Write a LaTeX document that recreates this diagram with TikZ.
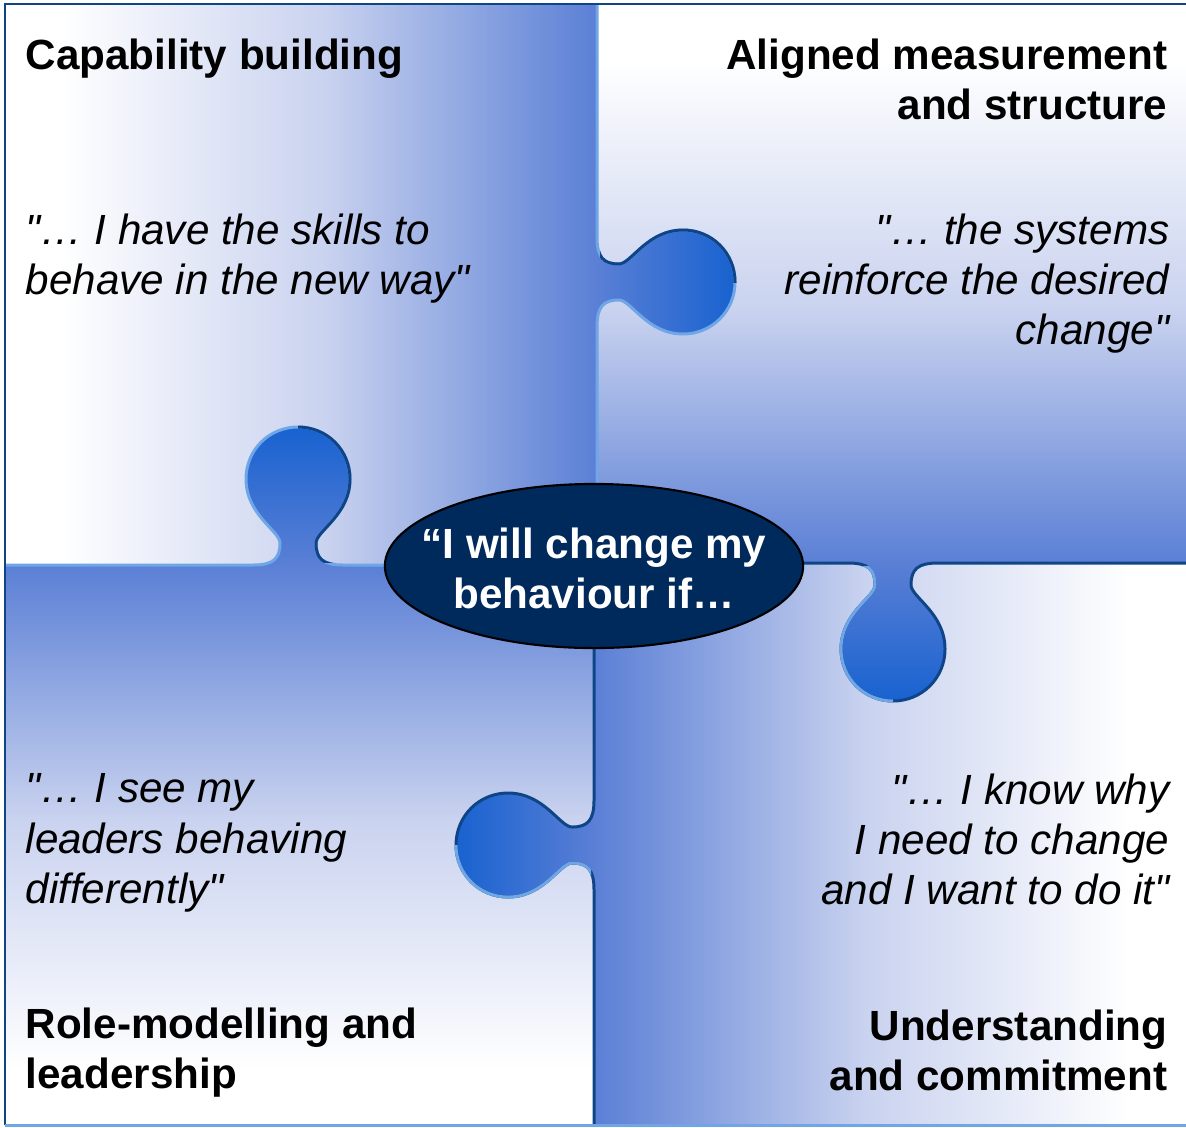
\documentclass[tikz,border=0pt]{standalone}
\usepackage{fontspec}
\setmainfont{Liberation Sans}
\usetikzlibrary{shapes.geometric}

\definecolor{pblue}{HTML}{5A7FD5}
\definecolor{kblue}{HTML}{1862D0}
\definecolor{midtone}{HTML}{C9D2EF}
\definecolor{navyedge}{HTML}{0F4587}
\definecolor{skyedge}{HTML}{6FA6E6}
\definecolor{corenavy}{HTML}{00295C}

\pgfdeclarehorizontalshading{tlshade}{100bp}{color(0bp)=(white); color(28.8bp)=(white); color(47bp)=(midtone); color(65.6bp)=(pblue); color(75bp)=(kblue); color(100bp)=(kblue)}
\pgfdeclareverticalshading{trshade}{100bp}{color(0bp)=(kblue); color(25bp)=(kblue); color(34.8bp)=(pblue); color(53bp)=(midtone); color(71bp)=(white); color(100bp)=(white)}
\pgfdeclarehorizontalshading{brshade}{100bp}{color(0bp)=(kblue); color(25bp)=(kblue); color(34.4bp)=(pblue); color(53bp)=(midtone); color(71.2bp)=(white); color(100bp)=(white)}
\pgfdeclareverticalshading{blshade}{100bp}{color(0bp)=(white); color(28.9bp)=(white); color(47bp)=(midtone); color(65.2bp)=(pblue); color(75bp)=(kblue); color(100bp)=(kblue)}

% puzzle knob: base centre, direction, run (1 or -1)
\newcommand{\knob}[3]{{[shift={#1},rotate=#2,xscale=#3]
  -- (-45,0) .. controls (-25,0) and (-18,-6) .. (-18,-22)
  .. controls (-18,-34) and (-52,-50) .. (-52,-86)
  .. controls (-52,-115) and (-29,-138) .. (0,-138)
  .. controls (29,-138) and (52,-115) .. (52,-86)
  .. controls (52,-50) and (18,-34) .. (18,-22)
  .. controls (18,-6) and (25,0) .. (45,0)}}
\newcommand{\dq}{\textquotedbl}

\begin{document}
\begin{tikzpicture}[x=0.01cm, y=-0.01cm,
    darkline/.style={draw=navyedge, line width=0.85pt},
    lightline/.style={draw=skyedge, line width=0.85pt},
    core/.style={ellipse, draw=black, line width=0.6pt, fill=corenavy, minimum width=4.18cm, minimum height=1.64cm, inner sep=0pt},
    coretext/.style={align=center, text=white, inner sep=0pt, font=\bfseries\fontsize{12}{14.2}\selectfont},
    title/.style={inner sep=0pt, font=\bfseries\fontsize{12}{14.2}\selectfont},
    quote/.style={inner sep=0pt, font=\itshape\fontsize{12}{14.3}\selectfont}]
    \useasboundingbox (0,0) rectangle (1186,1127);

    % Pieces
    \shade[shading=tlshade] (5,4) -- (597,4) \knob{(597,282)}{-90}{1} -- (597,565)
        \knob{(298,565)}{0}{-1} -- (5,565) -- cycle;
    \shade[shading=trshade] (597,4) -- (1186,4) -- (1186,563) \knob{(893,563)}{180}{1} -- (597,563)
        \knob{(597,282)}{-90}{-1} -- cycle;
    \shade[shading=brshade] (594,563) \knob{(893,563)}{180}{-1} -- (1186,563) -- (1186,1125)
        -- (594,1125) \knob{(594,845)}{90}{1} -- cycle;
    \shade[shading=blshade] (5,565) \knob{(298,565)}{0}{1} -- (594,565) \knob{(594,845)}{90}{-1}
        -- (594,1125) -- (5,1125) -- cycle;

    % Edges
    \draw[lightline] (597,4) \knob{(597,282)}{-90}{1} -- (597,565);
    \begin{scope}
        \clip (600,200) rectangle (760,282);
        \draw[darkline] (597,4) \knob{(597,282)}{-90}{1} -- (597,565);
    \end{scope}
    \draw[lightline] (5,565) \knob{(298,565)}{0}{1} -- (594,565);
    \begin{scope}
        \clip (298,420) rectangle (360,562);
        \draw[darkline] (5,565) \knob{(298,565)}{0}{1} -- (594,565);
    \end{scope}
    \draw[darkline] (597,563) \knob{(893,563)}{180}{-1} -- (1186,563);
    \begin{scope}
        \clip (830,566) rectangle (893,710);
        \draw[lightline] (597,563) \knob{(893,563)}{180}{-1} -- (1186,563);
    \end{scope}
    \draw[darkline] (594,565) \knob{(594,845)}{90}{-1} -- (594,1125);
    \begin{scope}
        \clip (440,845) rectangle (591,910);
        \draw[lightline] (594,565) \knob{(594,845)}{90}{-1} -- (594,1125);
    \end{scope}

    % Frame
    \draw[darkline] (5,1125) -- (5,4) -- (1186,4);
    \draw[lightline] (5,1125) -- (1186,1125);

    % Centre
    \node[core] (core) at (594,566) {};
    \node[coretext] (coretext) at (594,568) {“I will change my\\behaviour if…};

    % Labels
    \node[title, anchor=north west, align=left] (capability) at (25,38) {Capability building};
    \node[title, anchor=north east, align=right] (aligned) at (1168,38) {Aligned measurement\\and structure};
    \node[title, anchor=north west, align=left] (role) at (25,1007) {Role-modelling and\\leadership};
    \node[title, anchor=north east, align=right] (understanding) at (1168,1009) {Understanding\\and commitment};

    \node[quote, anchor=north west, align=left] (skills) at (25,213) {\dq… I have the skills to\\behave in the new way\dq};
    \node[quote, anchor=north east, align=right] (systems) at (1170,213) {\dq… the systems\\reinforce the desired\\change\dq};
    \node[quote, anchor=north west, align=left] (leaders) at (25,773) {\dq… I see my\\leaders behaving\\differently\dq};
    \node[quote, anchor=north east, align=right] (knowwhy) at (1170,773) {\dq… I know why\\I need to change\\and I want to do it\dq};

\end{tikzpicture}
\end{document}
